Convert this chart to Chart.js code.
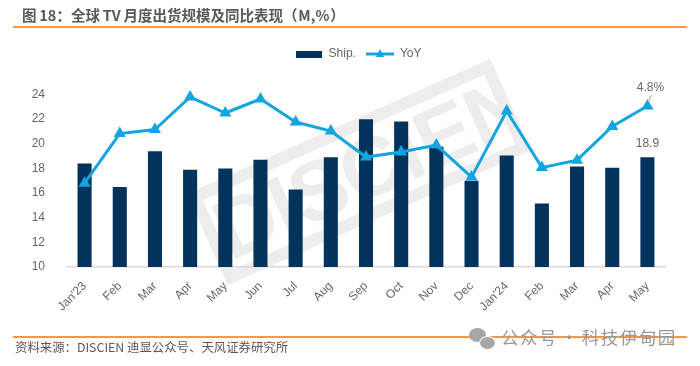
<!DOCTYPE html>
<html>
<head>
<meta charset="utf-8">
<script src="https://cdn.jsdelivr.net/npm/chart.js@4"></script>
<style>
  html, body { margin: 0; padding: 0; background: #fff; }
  #page { position: relative; width: 700px; height: 366px; overflow: hidden; font-family: "Noto Sans CJK SC", sans-serif; color: #595959; }
  #title { position: absolute; left: 22px; top: 4px; font-size: 14.5px; font-weight: 700; line-height: 22px; white-space: pre; word-spacing: -0.5px; }
  #title span { word-spacing: -2.5px; }
  #source { position: absolute; left: 15px; top: 337px; font-size: 12.4px; line-height: 20px; white-space: pre; }
  .rule { position: absolute; left: 13px; width: 674px; height: 1.5px; background: #f79646; }
  #stamp { position: absolute; left: 193px; top: 122px; width: 308px; height: 76px; border: 12px solid #ededed; transform: rotate(-24deg);
    font: 700 84px/76px "Liberation Sans", sans-serif; color: #ededed; text-align: center; overflow: hidden; letter-spacing: -1px; }
  #wechat { position: absolute; left: 501px; top: 325px; font-size: 17.5px; line-height: 24px; color: #999; letter-spacing: 1.5px; word-spacing: -3px; white-space: pre; }
  .bubble { position: absolute; border-radius: 50%; background: #a6a6a6; }
  canvas { position: absolute; left: 0; top: 0; }
</style>
</head>
<body>
<div id="page">
  <div id="stamp">DISCIEN</div>
  <canvas id="shipChart" width="700" height="366"></canvas>
  <div id="title">图 18：全球 TV 月度出货规模及同比表现<span>（ M,% ）</span></div>
  <div class="rule" style="top:26px"></div>
  <div class="rule" style="top:336px"></div>
  <div id="source">资料来源：DISCIEN 迪显公众号、天风证券研究所</div>
  <div class="bubble" style="left:469px;top:328px;width:17px;height:14px"></div>
  <div class="bubble" style="left:479px;top:336px;width:15px;height:12px;border:1px solid #fff"></div>
  <div id="wechat">公众号 · 科技伊甸园</div>
</div>
<script>
const months = ["Jan'23", 'Feb', 'Mar', 'Apr', 'May', 'Jun', 'Jul', 'Aug', 'Sep', 'Oct', 'Nov', 'Dec', "Jan'24", 'Feb', 'Mar', 'Apr', 'May'];
const shipments = [18.4, 16.5, 19.4, 17.9, 18.0, 18.7, 16.3, 18.9, 22.0, 21.8, 19.75, 17.0, 19.05, 15.15, 18.15, 18.05, 18.9];
const yoy = [-3.25, 1.92, 2.34, 5.74, 4.07, 5.53, 3.13, 2.18, -0.53, -0.01, 0.72, -2.62, 4.28, -1.63, -0.85, 2.66, 4.8];
const leftTicks = [10, 12, 14, 16, 18, 20, 22, 24];

const navy = '#03335a';
const sky = '#13a5e0';
const grey = '#666666';

// legend swatches, the library only takes a marker so they are small canvases
function barSwatch() {
  const c = document.createElement('canvas');
  c.width = 26; c.height = 7;
  const g = c.getContext('2d');
  g.fillStyle = navy;
  g.fillRect(0, 0, 26, 7);
  return c;
}
function lineSwatch() {
  const c = document.createElement('canvas');
  c.width = 28; c.height = 10;
  const g = c.getContext('2d');
  g.strokeStyle = sky;
  g.lineWidth = 3;
  g.beginPath(); g.moveTo(0, 5); g.lineTo(28, 5); g.stroke();
  g.fillStyle = sky;
  g.beginPath(); g.moveTo(14, 0); g.lineTo(18, 8); g.lineTo(10, 8); g.closePath(); g.fill();
  return c;
}

// keeps the gap between legend and plot and moves it off centre, legend has no option for it
const legendGap = {
  id: 'legendGap',
  beforeLayout(chart) {
    const legend = chart.legend;
    if (legend.gapDone) return;
    const fit = legend.fit;
    legend.fit = function () {
      fit.call(this);
      this.height = 56.5;
    };
    legend.gapDone = true;
  },
  afterLayout(chart) {
    chart.legend.left = 51;
  }
};

// last point labels
const endLabels = {
  id: 'endLabels',
  afterDatasetsDraw(chart) {
    const ctx = chart.ctx;
    const last = months.length - 1;
    const bar = chart.getDatasetMeta(1).data[last];
    const pt = chart.getDatasetMeta(0).data[last];
    ctx.save();
    ctx.fillStyle = grey;
    ctx.font = '12px "Liberation Sans"';
    ctx.textAlign = 'center';
    ctx.textBaseline = 'middle';
    ctx.fillText(shipments[last].toFixed(1), bar.x, bar.y - 14);
    ctx.fillText(yoy[last].toFixed(1) + '%', pt.x + 3, pt.y - 18);
    ctx.strokeStyle = '#a6a6a6';
    ctx.lineWidth = 1;
    ctx.beginPath();
    ctx.moveTo(pt.x + 4, pt.y - 11);
    ctx.lineTo(pt.x + 1, pt.y - 4);
    ctx.stroke();
    ctx.restore();
  }
};

new Chart(document.getElementById('shipChart'), {
  data: {
    labels: months,
    datasets: [
      {
        type: 'line',
        label: 'YoY',
        data: yoy,
        yAxisID: 'yPct',
        borderColor: sky,
        backgroundColor: sky,
        borderWidth: 3,
        tension: 0,
        pointStyle: 'triangle',
        pointRadius: 4,
        clip: false,
        order: 1
      },
      {
        type: 'bar',
        label: 'Ship.',
        data: shipments,
        yAxisID: 'y',
        backgroundColor: navy,
        categoryPercentage: 1,
        barPercentage: 0.4,
        order: 2
      }
    ]
  },
  options: {
    responsive: false,
    animation: false,
    layout: { padding: { left: 0, right: 35, top: 38, bottom: 0 } },
    plugins: {
      tooltip: { enabled: false },
      legend: {
        position: 'top',
        align: 'center',
        labels: {
          usePointStyle: true,
          pointStyleWidth: 28,
          padding: 10,
          color: grey,
          font: { family: 'Liberation Sans', size: 12 },
          generateLabels() {
            return [
              { text: 'Ship.', pointStyle: barSwatch(), fontColor: grey, lineWidth: 0, strokeStyle: 'transparent', fillStyle: navy },
              { text: 'YoY', pointStyle: lineSwatch(), fontColor: grey, lineWidth: 0, strokeStyle: 'transparent', fillStyle: sky }
            ];
          }
        }
      }
    },
    scales: {
      x: {
        grid: { display: false },
        border: { color: '#d9d9d9', width: 1.5 },
        ticks: {
          color: grey,
          font: { family: 'Liberation Sans', size: 12 },
          maxRotation: 45,
          minRotation: 45,
          autoSkip: false,
          padding: 4
        },
        afterFit(scale) { scale.height = 99; }
      },
      y: {
        min: 10,
        max: 24,
        grid: { display: false },
        border: { display: false },
        afterBuildTicks(scale) { scale.ticks = leftTicks.map(v => ({ value: v })); },
        ticks: { color: grey, font: { family: 'Liberation Sans', size: 12 }, padding: 14 },
        afterFit(scale) { scale.width = 67; }
      },
      yPct: {
        display: false,
        position: 'right',
        min: -12,
        max: 6
      }
    }
  },
  plugins: [legendGap, endLabels]
});
</script>
</body>
</html>
